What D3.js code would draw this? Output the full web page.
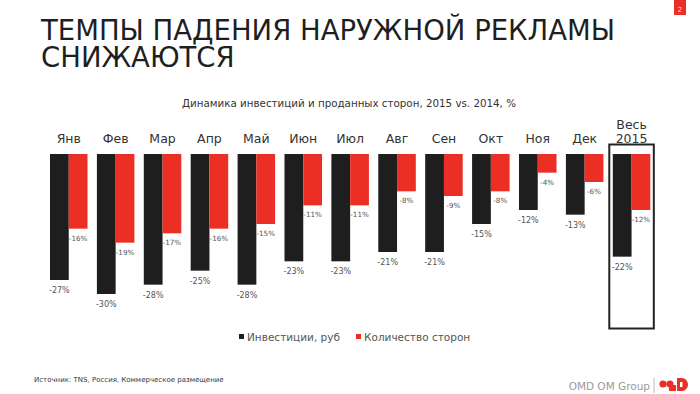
<!DOCTYPE html>
<html>
<head>
<meta charset="utf-8">
<script src="https://cdn.jsdelivr.net/npm/d3@7"></script>
<style>
  html, body { margin: 0; padding: 0; background: #fff; }
  svg { display: block; font-family: "DejaVu Sans", Verdana, sans-serif; }
</style>
</head>
<body>
<script>
// values
const months = ["Янв", "Фев", "Мар", "Апр", "Май", "Июн", "Июл", "Авг", "Сен", "Окт", "Ноя", "Дек", "Весь 2015"];
const invest = [-27, -30, -28, -25, -28, -23, -23, -21, -21, -15, -12, -13, -22];
const sides = [-16, -19, -17, -16, -15, -11, -11, -8, -9, -8, -4, -6, -12];
const seriesNames = ["Инвестиции, руб", "Количество сторон"];

const width = 700, height = 394;
const black = "#1e1e1e", red = "#ec2f25";

const svg = d3.select("body").append("svg")
    .attr("width", width)
    .attr("height", height);

// title
const title = svg.append("text")
    .attr("fill", "#1f1f1f")
    .attr("font-size", 27.5);
title.append("tspan").attr("x", 41).attr("y", 40).text("ТЕМПЫ ПАДЕНИЯ НАРУЖНОЙ РЕКЛАМЫ");
title.append("tspan").attr("x", 41).attr("y", 67).text("СНИЖАЮТСЯ");

// page number
svg.append("rect").attr("x", 674).attr("y", 0).attr("width", 12).attr("height", 15).attr("fill", red);
svg.append("text").attr("x", 680).attr("y", 12).attr("text-anchor", "middle")
    .attr("font-size", 7).attr("fill", "#fde").text("2");

// chart subtitle
svg.append("text")
    .attr("x", 349).attr("y", 107)
    .attr("text-anchor", "middle")
    .attr("font-size", 10.3)
    .attr("fill", "#333")
    .text("Динамика инвестиций и проданных сторон, 2015 vs. 2014, %");

const x = d3.scaleBand()
    .domain(months)
    .range([45.3, 655])
    .paddingInner(0.2)
    .paddingOuter(0.1);

const y = d3.scaleLinear()
    .domain([0, -30])
    .range([154, 294]);

const bw = x.bandwidth() / 2;
const data = months.map((m, i) => ({m, inv: invest[i], sid: sides[i]}));

// month labels (axis without lines)
const xAxis = g => g
    .attr("transform", `translate(0,143)`)
    .call(d3.axisTop(x).tickSize(0).tickPadding(0))
    .call(g => g.select(".domain").remove())
    .call(g => g.selectAll("text")
        .attr("font-size", 12.5)
        .attr("font-family", "DejaVu Sans, sans-serif")
        .attr("fill", "#333")
        .attr("dy", 0)
        .each(function(d) {
          const t = d3.select(this);
          const parts = d.split(" ");
          if (parts.length > 1) {
            t.text(null);
            t.append("tspan").attr("x", 0).attr("dy", "-1.15em").text(parts[0]);
            t.append("tspan").attr("x", 0).attr("dy", "1.15em").text(parts[1]);
          }
        }));
svg.append("g").call(xAxis);

// bars
const grp = svg.append("g").selectAll("g")
  .data(data)
  .join("g")
    .attr("transform", d => `translate(${x(d.m)},0)`);

grp.append("rect")
    .attr("x", 0)
    .attr("y", y(0))
    .attr("width", bw)
    .attr("height", d => y(d.inv) - y(0))
    .attr("fill", black);

grp.append("rect")
    .attr("x", bw)
    .attr("y", y(0))
    .attr("width", bw)
    .attr("height", d => y(d.sid) - y(0))
    .attr("fill", red);

grp.append("text")
    .attr("x", bw / 2)
    .attr("y", d => y(d.inv) + 13)
    .attr("text-anchor", "middle")
    .attr("font-size", 8)
    .attr("fill", "#555")
    .text(d => d.inv + "%");

grp.append("text")
    .attr("x", bw * 1.5)
    .attr("y", d => y(d.sid) + 12)
    .attr("text-anchor", "middle")
    .attr("font-size", 7.2)
    .attr("fill", "#555")
    .text(d => d.sid + "%");

// highlight frame around the full year
const last = months[months.length - 1];
svg.append("rect")
    .attr("x", x(last) - 3.5)
    .attr("y", y(0) - 9.5)
    .attr("width", x.bandwidth() + 7)
    .attr("height", 184)
    .attr("fill", "none")
    .attr("stroke", "#222")
    .attr("stroke-width", 2);

// legend
const legend = svg.append("g").attr("font-size", 10.5).attr("fill", "#555");
const lx = [239, 356];
seriesNames.forEach((name, i) => {
  legend.append("rect").attr("x", lx[i]).attr("y", 334).attr("width", 5).attr("height", 5)
      .attr("fill", i ? red : black);
  legend.append("text").attr("x", lx[i] + 8).attr("y", 340.5).text(name);
});

// source
svg.append("text")
    .attr("x", 34).attr("y", 382)
    .attr("font-size", 7)
    .attr("fill", "#333")
    .text("Источник: TNS, Россия, Коммерческое размещение");

// footer logo
svg.append("text")
    .attr("x", 650).attr("y", 390)
    .attr("text-anchor", "end")
    .attr("font-size", 10.5)
    .attr("fill", "#9a9a9a")
    .text("OMD OM Group");
svg.append("line")
    .attr("x1", 654).attr("x2", 654).attr("y1", 378).attr("y2", 393)
    .attr("stroke", "#bbb");
const logo = svg.append("g").attr("fill", red);
logo.append("circle").attr("cx", 663).attr("cy", 384).attr("r", 3.6);
logo.append("circle").attr("cx", 670).attr("cy", 384).attr("r", 3.6);
logo.append("rect").attr("x", 669).attr("y", 385).attr("width", 7).attr("height", 6);
logo.append("path").attr("d", "M677,378 h5 a6,6.5 0 0 1 0,13 h-5 z");
logo.append("rect").attr("x", 680).attr("y", 382).attr("width", 2.5).attr("height", 5).attr("fill", "#fff");
</script>
</body>
</html>
